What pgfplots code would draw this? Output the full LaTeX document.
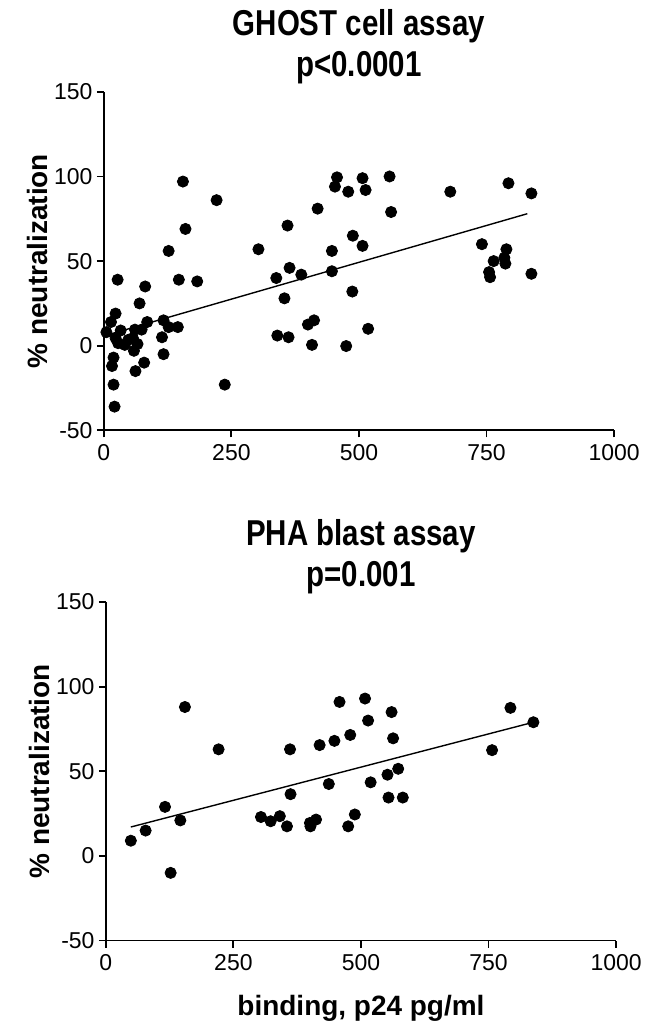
\documentclass[border=0pt]{standalone}
\usepackage{pgfplots}
\pgfplotsset{compat=1.18}
\usepackage{fontspec}
\setmainfont{Liberation Sans}
\newfontfamily\condfont{Liberation Sans}[FakeStretch=0.82]

\pgfplotsset{
  neut/.style={
    scale only axis,
    width=255.5pt, height=169.5pt,
    xmin=0, xmax=1000, ymin=-50, ymax=150,
    axis lines*=left,
    axis line style={line width=0.9pt},
    tick style={line width=0.9pt, black},
    tick align=outside,
    major tick length=3.5pt,
    xtick={0,250,500,750,1000},
    ytick={-50,0,50,100,150},
    /pgf/number format/assume math mode=true,
    /pgf/number format/1000 sep={},
    tick label style={font=\fontsize{11.5}{14}\selectfont},
    yticklabel style={inner sep=2pt},
    ylabel={\% neutralization},
    ylabel style={at={(axis description cs:-0.13,0.5)}, anchor=center,
      font=\bfseries\fontsize{14}{16}\selectfont},
    title style={at={(0.5,1)}, anchor=south, inner sep=0pt, yshift=-2pt,
      align=center, font=\condfont\bfseries\fontsize{18}{20.5}\selectfont},
    clip=false,
  },
  dots/.style={only marks, mark=*, mark size=2.8pt, black},
  fit/.style={black, line width=0.7pt, no marks},
}

\begin{document}
\begin{tikzpicture}
% GHOST cell assay
\begin{axis}[neut, at={(0,0)}, anchor=north west,
  title={GHOST cell assay\\p<0.0001}]
\addplot[dots] coordinates {
  (155,97) (221,86) (160,69) (127,56) (303,57) (27,39) (81,35) (147,39)
  (183,38) (70,25) (23,19) (14,14) (85,14) (117,15) (127,11) (145,11)
  (5,8) (33,9) (61,9.5) (74,9.5) (23,4.5) (48,3.5) (57,4.5) (28,1.5)
  (41,0.5) (66,1) (114,5) (59,-3) (19,-7) (16,-12) (117,-5) (79,-10)
  (62,-15) (19,-23) (237,-23) (21,-36)
  (457,99.5) (453,94) (507,99) (560,100) (479,91) (513,92) (679,91)
  (419,81) (563,79) (360,71) (488,65) (507,59) (447,56) (364,46) (338,40)
  (387,42) (447,44) (354,28) (487,32) (412,15) (400,12.5) (518,10)
  (340,6) (362,5) (408,0.5) (475,-0.2)
  (793,96) (838,90) (741,60) (789,57) (764,50) (785,52) (787,48.5)
  (755,43.5) (757,40.5) (838,42.5)
};
\addplot[fit] coordinates {(5,6.2) (830,78)};
\end{axis}

% PHA blast assay
\begin{axis}[neut, at={(1pt,-255.5pt)}, anchor=north west,
  title={PHA blast assay\\p=0.001},
  xlabel={binding, p24 pg/ml},
  xlabel style={at={(axis description cs:0.5,-0.2)}, anchor=center,
    font=\bfseries\fontsize{14}{16}\selectfont}]
\addplot[dots] coordinates {
  (155,88) (221,63) (361,63) (116,29) (362,36.5) (146,21) (78,15) (49,9)
  (127,-10) (304,23) (323,20.5) (341,23.5) (355,17.5)
  (458,91) (508,93) (560,85) (514,80) (793,87.5) (838,79) (419,65.5)
  (448,68) (479,71.5) (563,69.5) (757,62.5) (573,51.5) (552,48) (437,42.5)
  (519,43.5) (554,34.5) (582,34.5) (488,24.5) (412,21.5) (400,19.5)
  (401,17.5) (475,17.5)
};
\addplot[fit] coordinates {(49,17.1) (838,79)};
\end{axis}

\path[use as bounding box] (-52pt,46pt) rectangle (272.5pt,-468pt);
\end{tikzpicture}
\end{document}
